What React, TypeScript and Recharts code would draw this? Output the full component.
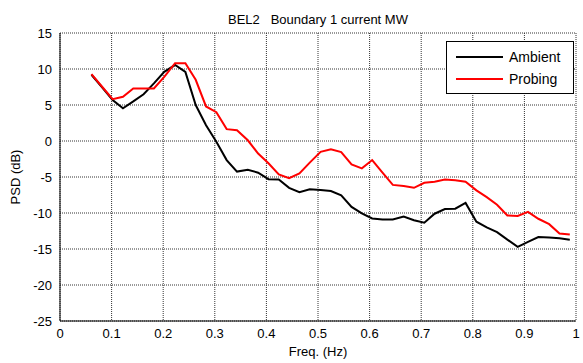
import React from 'react';
import { LineChart, Line, XAxis, YAxis, CartesianGrid, Legend } from 'recharts';

// frequency bins (Hz)
const freqs = [
  0.061, 0.082, 0.102, 0.122, 0.142, 0.162, 0.182, 0.202, 0.223, 0.243,
  0.263, 0.283, 0.303, 0.323, 0.343, 0.364, 0.384, 0.404, 0.424, 0.444,
  0.464, 0.484, 0.505, 0.525, 0.545, 0.565, 0.585, 0.605, 0.625, 0.645,
  0.666, 0.686, 0.706, 0.726, 0.746, 0.766, 0.786, 0.807, 0.827, 0.847,
  0.867, 0.887, 0.907, 0.927, 0.948, 0.968, 0.988,
];

// PSD in dB
const ambient = [
  9.2, 7.4, 5.7, 4.55, 5.5, 6.5, 8.0, 9.6, 10.55, 9.6,
  5.0, 2.2, -0.1, -2.65, -4.25, -4.0, -4.4, -5.3, -5.35, -6.5,
  -7.1, -6.7, -6.8, -6.95, -7.55, -9.15, -10.05, -10.75, -10.9, -10.9,
  -10.5, -11.0, -11.35, -10.1, -9.45, -9.4, -8.6, -11.2, -12.0, -12.65,
  -13.7, -14.7, -14.0, -13.35, -13.4, -13.5, -13.7,
];

const probing = [
  9.3, 7.5, 5.8, 6.15, 7.3, 7.3, 7.3, 8.9, 10.8, 10.8,
  8.5, 4.8, 4.0, 1.65, 1.5, 0.1, -1.75, -3.1, -4.65, -5.15,
  -4.5, -3.0, -1.5, -1.15, -1.55, -3.25, -3.8, -2.65, -4.4, -6.1,
  -6.25, -6.5, -5.8, -5.65, -5.35, -5.45, -5.65, -6.85, -7.8, -8.85,
  -10.35, -10.4, -9.85, -10.8, -11.55, -12.85, -13.0,
];

const xTicks = [0, 0.1, 0.2, 0.3, 0.4, 0.5, 0.6, 0.7, 0.8, 0.9, 1];
const yTicks = [-25, -20, -15, -10, -5, 0, 5, 10, 15];

const rows = freqs.map((f, i) => ({ f, ambient: ambient[i], probing: probing[i] }));

const FONT = '"Liberation Sans", Arial, sans-serif';
const tickStyle = { fill: '#000', fontSize: 13, fontFamily: FONT };

const LegendBox = ({ payload }: any) => (
  <div
    style={{
      border: '1px solid #000',
      background: '#fff',
      width: 128,
      height: 53,
      boxSizing: 'border-box',
      fontFamily: FONT,
      fontSize: 14,
      color: '#000',
      padding: '4px 0 0 9px',
    }}
  >
    {(payload || []).map((p: any) => (
      <div key={p.value} style={{ display: 'flex', alignItems: 'center', height: 22 }}>
        <span style={{ display: 'inline-block', width: 47, height: 2, background: p.color, marginRight: 6 }} />
        <span>{p.value}</span>
      </div>
    ))}
  </div>
);

export default function App() {
  return (
    <div style={{ position: 'absolute', left: 0, top: 0, width: 583, height: 363, background: '#fff' }}>
      <div
        style={{
          position: 'absolute',
          left: 60,
          width: 516,
          top: 12,
          textAlign: 'center',
          fontFamily: FONT,
          fontSize: 13,
          color: '#000',
          whiteSpace: 'pre',
        }}
      >
        {'BEL2   Boundary 1 current MW'}
      </div>
      <LineChart width={583} height={363} data={rows} margin={{ top: 33, right: 7, bottom: 0, left: 0 }}>
        <CartesianGrid
          xAxisId="main"
          yAxisId="main"
          stroke="#333"
          strokeDasharray="1 1"
          horizontalValues={yTicks}
          verticalValues={xTicks}
        />
        {/* inward tick marks and box edges */}
        <XAxis xAxisId="bin" dataKey="f" type="number" domain={[0, 1]} ticks={xTicks} orientation="bottom"
          mirror height={0} tick={false} tickSize={5} axisLine={false} tickLine={{ stroke: '#000' }} />
        <XAxis xAxisId="top" dataKey="f" type="number" domain={[0, 1]} ticks={xTicks} orientation="top"
          mirror height={0} tick={false} tickSize={5} axisLine={{ stroke: '#000' }} tickLine={{ stroke: '#000' }} />
        <YAxis yAxisId="lin" type="number" domain={[-25, 15]} ticks={yTicks} orientation="left"
          mirror width={0} tick={false} tickSize={5} axisLine={false} tickLine={{ stroke: '#000' }} />
        <YAxis yAxisId="right" type="number" domain={[-25, 15]} ticks={yTicks} orientation="right"
          mirror width={0} tick={false} tickSize={5} axisLine={{ stroke: '#000' }} tickLine={{ stroke: '#000' }} />
        <XAxis
          xAxisId="main"
          dataKey="f"
          type="number"
          domain={[0, 1]}
          ticks={xTicks}
          interval={0}
          height={42}
          tickLine={false}
          tick={tickStyle}
          axisLine={{ stroke: '#000' }}
          label={{ value: 'Freq. (Hz)', position: 'insideBottom', offset: 7, fill: '#000', fontSize: 13, fontFamily: FONT }}
        />
        <YAxis
          yAxisId="main"
          type="number"
          domain={[-25, 15]}
          ticks={yTicks}
          interval={0}
          width={60}
          tickLine={false}
          tick={tickStyle}
          axisLine={{ stroke: '#000' }}
          label={{ value: 'PSD (dB)', angle: -90, position: 'insideLeft', offset: 15, fill: '#000', fontSize: 13, fontFamily: FONT, style: { textAnchor: 'middle' } }}
        />
        <Legend
          verticalAlign="middle"
          align="center"
          layout="vertical"
          content={<LegendBox />}
          wrapperStyle={{ position: 'absolute', left: 446, top: 41, width: 128 }}
        />
        <Line xAxisId="main" yAxisId="main" type="linear" dataKey="ambient" name="Ambient" stroke="#000"
          strokeWidth={2} dot={false} isAnimationActive={false} />
        <Line xAxisId="main" yAxisId="main" type="linear" dataKey="probing" name="Probing" stroke="#ff0000"
          strokeWidth={2} dot={false} isAnimationActive={false} />
      </LineChart>
    </div>
  );
}
